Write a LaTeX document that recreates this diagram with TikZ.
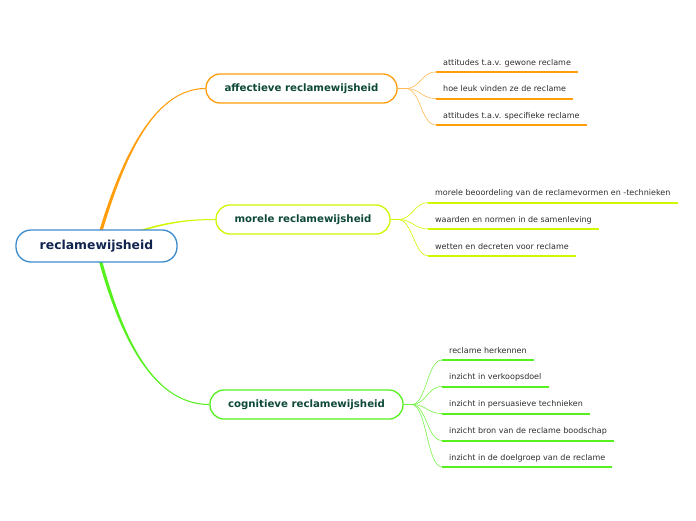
\documentclass[tikz,border=0pt]{standalone}
\usepackage{fontspec}
\setmainfont{DejaVu Sans}
\usetikzlibrary{backgrounds}
\definecolor{cOr}{RGB}{255,158,10}
\definecolor{cYe}{RGB}{210,245,0}
\definecolor{cGr}{RGB}{85,240,30}
\definecolor{cRoot}{RGB}{60,140,205}
\definecolor{tRoot}{RGB}{18,36,80}
\definecolor{tBr}{RGB}{14,72,56}
\definecolor{tLeaf}{RGB}{45,45,45}
\begin{document}
\begin{tikzpicture}[x=1pt,y=-1pt,
  rootbox/.style={draw=cRoot,line width=1.3pt,fill=white,rounded corners=15pt,
    minimum width=161pt,minimum height=32pt,inner sep=0pt,
    font=\fontsize{12.4}{14}\selectfont\bfseries,text=tRoot},
  brbox/.style={line width=1.3pt,fill=white,rounded corners=14pt,
    minimum height=29pt,inner sep=0pt,
    font=\fontsize{10.2}{12}\selectfont\bfseries,text=tBr},
  leaf/.style={anchor=south west,inner xsep=7pt,inner ysep=6.5pt,text depth=0pt,
    font=\fontsize{8}{9}\selectfont,text=tLeaf},
  uline/.style={line width=2pt},
  twig/.style={line width=0.6pt}
]
\useasboundingbox (0,0) rectangle (696,520);

\node[rootbox] (root) at (96.5,246) {reclamewijsheid};
\node[brbox,draw=cOr,minimum width=191pt] (aff) at (301.5,88.5) {affectieve reclamewijsheid};
\node[brbox,draw=cYe,minimum width=174pt] (mor) at (303,219.5) {morele reclamewijsheid};
\node[brbox,draw=cGr,minimum width=193pt] (cog) at (306.5,404.5) {cognitieve reclamewijsheid};

% leaves affective
\node[leaf] (a1) at (436,72) {attitudes t.a.v. gewone reclame};
\node[leaf] (a2) at (436,98.5) {hoe leuk vinden ze de reclame};
\node[leaf] (a3) at (436,125) {attitudes t.a.v. specifieke reclame};
% leaves morele
\node[leaf] (m1) at (428,202.5) {morele beoordeling van de reclamevormen en -technieken};
\node[leaf] (m2) at (428,229) {waarden en normen in de samenleving};
\node[leaf] (m3) at (428,256) {wetten en decreten voor reclame};
% leaves cognitieve
\node[leaf] (c1) at (442,360) {reclame herkennen};
\node[leaf] (c2) at (442,386.5) {inzicht in verkoopsdoel};
\node[leaf] (c3) at (442,413.5) {inzicht in persuasieve technieken};
\node[leaf] (c4) at (442,440.5) {inzicht bron van de reclame boodschap};
\node[leaf] (c5) at (442,467) {inzicht in de doelgroep van de reclame};

\foreach \n in {a1,a2,a3} \draw[uline,cOr] (\n.south west) -- (\n.south east);
\foreach \n in {m1,m2,m3} \draw[uline,cYe] (\n.south west) -- (\n.south east);
\foreach \n in {c1,c2,c3,c4,c5} \draw[uline,cGr] (\n.south west) -- (\n.south east);

\begin{scope}[on background layer]
  % tapered main connectors
  \fill[cOr] ([xshift=-1.7pt]root.center) .. controls (116.3,170) and (150,88) ..
    ([yshift=0.55pt]aff.west) -- ([yshift=-0.55pt]aff.west)
    .. controls (150,89) and (119.7,170) .. ([xshift=1.7pt]root.center) -- cycle;
  \fill[cYe] ([yshift=1.1pt]root.center) .. controls (150,224.9) and (175,219) ..
    ([yshift=0.5pt]mor.west) -- ([yshift=-0.5pt]mor.west)
    .. controls (175,220) and (150,227.1) .. ([yshift=-1.1pt]root.center) -- cycle;
  \fill[cGr] ([xshift=-1.7pt]root.center) .. controls (116.3,330) and (150,405) ..
    ([yshift=-0.55pt]cog.west) -- ([yshift=0.55pt]cog.west)
    .. controls (150,404) and (119.7,330) .. ([xshift=1.7pt]root.center) -- cycle;
  \foreach \n in {a1,a2,a3}
    \draw[twig,cOr!70] (aff.east) -- ++(8,0) .. controls +(15,0) and +(-15,0) .. (\n.south west);
  \foreach \n in {m1,m2,m3}
    \draw[twig,cYe] (mor.east) -- ++(8,0) .. controls +(13,0) and +(-13,0) .. (\n.south west);
  \foreach \n in {c1,c2,c3,c4,c5}
    \draw[twig,cGr!80] (cog.east) -- ++(8,0) .. controls +(15,0) and +(-15,0) .. (\n.south west);
\end{scope}
\end{tikzpicture}
\end{document}
